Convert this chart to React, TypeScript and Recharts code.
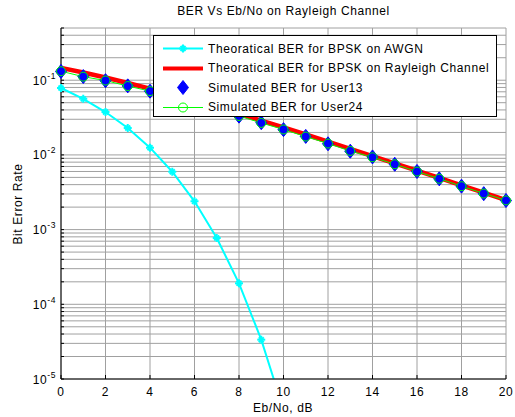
import React from 'react';
import { ComposedChart, Line, XAxis, YAxis, CartesianGrid, Label } from 'recharts';

const ebNo = [0, 1, 2, 3, 4, 5, 6, 7, 8, 9, 10, 11, 12, 13, 14, 15, 16, 17, 18, 19, 20];
const awgnBer = [0.0786, 0.0563, 0.0375, 0.0229, 0.0125, 0.00595, 0.00239, 0.000773, 0.000191, 0.0000336, 0.00000387];
const rayleighBer = [0.1464, 0.1267, 0.1085, 0.0919, 0.0771, 0.0642, 0.053, 0.0435, 0.0355, 0.0288, 0.0233, 0.01875, 0.01507, 0.01208, 0.00966, 0.00772, 0.00617, 0.00492, 0.00392, 0.00312, 0.00248];
const user13Ber = [0.131, 0.112, 0.0985, 0.084, 0.0712, 0.0595, 0.0492, 0.0405, 0.033, 0.027, 0.0218, 0.0177, 0.0141, 0.0112, 0.0094, 0.00748, 0.006, 0.00478, 0.00382, 0.00303, 0.00245];
const user24Ber = [0.132, 0.1115, 0.099, 0.0835, 0.0715, 0.0592, 0.0495, 0.0403, 0.0332, 0.0268, 0.0219, 0.0176, 0.0142, 0.0113, 0.0093, 0.0075, 0.00598, 0.0048, 0.00381, 0.00304, 0.00246];

const xTicks = [0, 2, 4, 6, 8, 10, 12, 14, 16, 18, 20];
const decades = [1e-5, 1e-4, 1e-3, 1e-2, 1e-1];
const mantissas = [1, 2, 3, 4, 5, 6, 7, 8, 9];
const yTicks = decades.flatMap((d) => mantissas.map((m) => m * d)).filter((v) => v <= 0.5);

const seriesNames = {
  awgn: 'Theoratical BER for BPSK on AWGN',
  rayleigh: 'Theoratical BER for BPSK on Rayleigh Channel',
  user13: 'Simulated BER for User13',
  user24: 'Simulated BER for User24',
};

const data = ebNo.map((x, i) => ({
  x,
  awgn: i < awgnBer.length ? awgnBer[i] : undefined,
  rayleigh: rayleighBer[i],
  user13: user13Ber[i],
  user24: user24Ber[i],
}));

const FONT = '"Liberation Sans", Arial, sans-serif';
const SPACING = 0.6;
const isDecade = (v: number) => Math.abs(Math.log10(v) - Math.round(Math.log10(v))) < 1e-6;

const YTick = (props: any) => {
  const { y, payload } = props;
  if (!isDecade(payload.value)) return <g />;
  const exp = Math.round(Math.log10(payload.value));
  return (
    <text x={56} y={y + 4.5} textAnchor="end" fontSize={12} fill="#000" fontFamily={FONT} letterSpacing={SPACING}>
      <tspan>10</tspan>
      <tspan dy={-6} fontSize={8.5}>{String(exp)}</tspan>
    </text>
  );
};

const XTick = (props: any) => {
  const { x, payload } = props;
  return (
    <text x={x} y={396} textAnchor="middle" fontSize={12} fill="#000" fontFamily={FONT} letterSpacing={SPACING}>
      {payload.value}
    </text>
  );
};

const EmptyTick = () => <g />;

const StarDot = (props: any) => {
  const { cx, cy } = props;
  if (cx == null || cy == null) return <g key={props.index} />;
  return (
    <g key={props.index} stroke="#00ffff" strokeWidth={2}>
      <line x1={cx - 4} y1={cy} x2={cx + 4} y2={cy} />
      <line x1={cx} y1={cy - 4} x2={cx} y2={cy + 4} />
      <line x1={cx - 2.5} y1={cy - 2.5} x2={cx + 2.5} y2={cy + 2.5} />
      <line x1={cx - 2.5} y1={cy + 2.5} x2={cx + 2.5} y2={cy - 2.5} />
    </g>
  );
};

const DiamondDot = (props: any) => {
  const { cx, cy } = props;
  if (cx == null || cy == null) return <g key={props.index} />;
  return (
    <path
      key={props.index}
      d={`M${cx},${cy - 7} L${cx + 5.5},${cy} L${cx},${cy + 7} L${cx - 5.5},${cy} Z`}
      fill="#0000ff"
      stroke="#0000ff"
    />
  );
};

const CircleDot = (props: any) => {
  const { cx, cy } = props;
  if (cx == null || cy == null) return <g key={props.index} />;
  return <circle key={props.index} cx={cx} cy={cy} r={4.5} fill="none" stroke="#00ff00" strokeWidth={1} />;
};

const LegendBox = () => (
  <div
    style={{
      position: 'absolute',
      left: 153,
      top: 35,
      width: 342,
      height: 80,
      border: '1px solid #000',
      background: '#fff',
      fontFamily: FONT,
      fontSize: 12,
      letterSpacing: SPACING,
    }}
  >
    {(['awgn', 'rayleigh', 'user13', 'user24'] as const).map((k, i) => (
      <div key={k} style={{ position: 'absolute', left: 0, top: 3 + i * 19.5, height: 19, width: 342, display: 'flex', alignItems: 'center' }}>
        <svg width={54} height={19} style={{ flex: 'none' }}>
          {k === 'awgn' && (
            <g>
              <line x1={9} y1={9.5} x2={49} y2={9.5} stroke="#00ffff" strokeWidth={2} />
              <StarDot cx={29} cy={9.5} />
            </g>
          )}
          {k === 'rayleigh' && <line x1={9} y1={9.5} x2={49} y2={9.5} stroke="#ff0000" strokeWidth={4} />}
          {k === 'user13' && <DiamondDot cx={29} cy={9.5} />}
          {k === 'user24' && (
            <g>
              <line x1={9} y1={9.5} x2={49} y2={9.5} stroke="#00ff00" strokeWidth={1} />
              <CircleDot cx={29} cy={9.5} />
            </g>
          )}
        </svg>
        <span style={{ whiteSpace: 'nowrap' }}>{seriesNames[k]}</span>
      </div>
    ))}
  </div>
);

export default function App() {
  return (
    <div style={{ position: 'absolute', left: 0, top: 0, width: 515, height: 417, background: '#fff' }}>
      <div
        style={{
          position: 'absolute',
          left: 61,
          width: 445,
          top: 4,
          textAlign: 'center',
          fontFamily: FONT,
          fontSize: 12,
          letterSpacing: SPACING,
        }}
      >
        BER Vs Eb/No on Rayleigh Channel
      </div>
      <ComposedChart width={515} height={417} data={data} margin={{ top: 28, right: 9, bottom: 0, left: 0 }}>
        <CartesianGrid stroke="#a0a0a0" strokeWidth={1} />
        <XAxis
          dataKey="x"
          type="number"
          domain={[0, 20]}
          ticks={xTicks}
          height={38}
          tick={<XTick />}
          tickSize={-4}
          axisLine={{ stroke: '#000' }}
          tickLine={{ stroke: '#000' }}
        >
          <Label
            content={() => (
              <text x={283} y={412} textAnchor="middle" fontSize={12} fontFamily={FONT} fill="#000" letterSpacing={SPACING}>
                Eb/No, dB
              </text>
            )}
          />
        </XAxis>
        <XAxis
          xAxisId="top"
          orientation="top"
          dataKey="x"
          type="number"
          domain={[0, 20]}
          ticks={xTicks}
          height={0}
          tick={<EmptyTick />}
          tickSize={-4}
          axisLine={{ stroke: '#000' }}
          tickLine={{ stroke: '#000' }}
        />
        <YAxis
          scale="log"
          domain={[1e-5, 0.5]}
          allowDataOverflow
          ticks={yTicks}
          width={61}
          tick={<YTick />}
          tickSize={-3}
          axisLine={{ stroke: '#000' }}
          tickLine={{ stroke: '#000' }}
          interval={0}
        >
          <Label
            content={() => (
              <text x={18} y={204} transform="rotate(-90 18 204)" textAnchor="middle" dominantBaseline="central" fontSize={12} fontFamily={FONT} fill="#000" letterSpacing={SPACING}>
                Bit Error Rate
              </text>
            )}
          />
        </YAxis>
        <YAxis
          yAxisId="right"
          orientation="right"
          scale="log"
          domain={[1e-5, 0.5]}
          allowDataOverflow
          ticks={yTicks}
          width={0}
          tick={<EmptyTick />}
          tickSize={-3}
          axisLine={{ stroke: '#000' }}
          tickLine={{ stroke: '#000' }}
          interval={0}
        />
        <Line dataKey="awgn" stroke="#00ffff" strokeWidth={2} dot={<StarDot />} isAnimationActive={false} connectNulls={false} />
        <Line dataKey="rayleigh" stroke="#ff0000" strokeWidth={4.5} dot={false} isAnimationActive={false} />
        <Line dataKey="user13" stroke="none" dot={<DiamondDot />} isAnimationActive={false} />
        <Line dataKey="user24" stroke="#00ff00" strokeWidth={1} dot={<CircleDot />} isAnimationActive={false} />
      </ComposedChart>
      <LegendBox />
    </div>
  );
}
